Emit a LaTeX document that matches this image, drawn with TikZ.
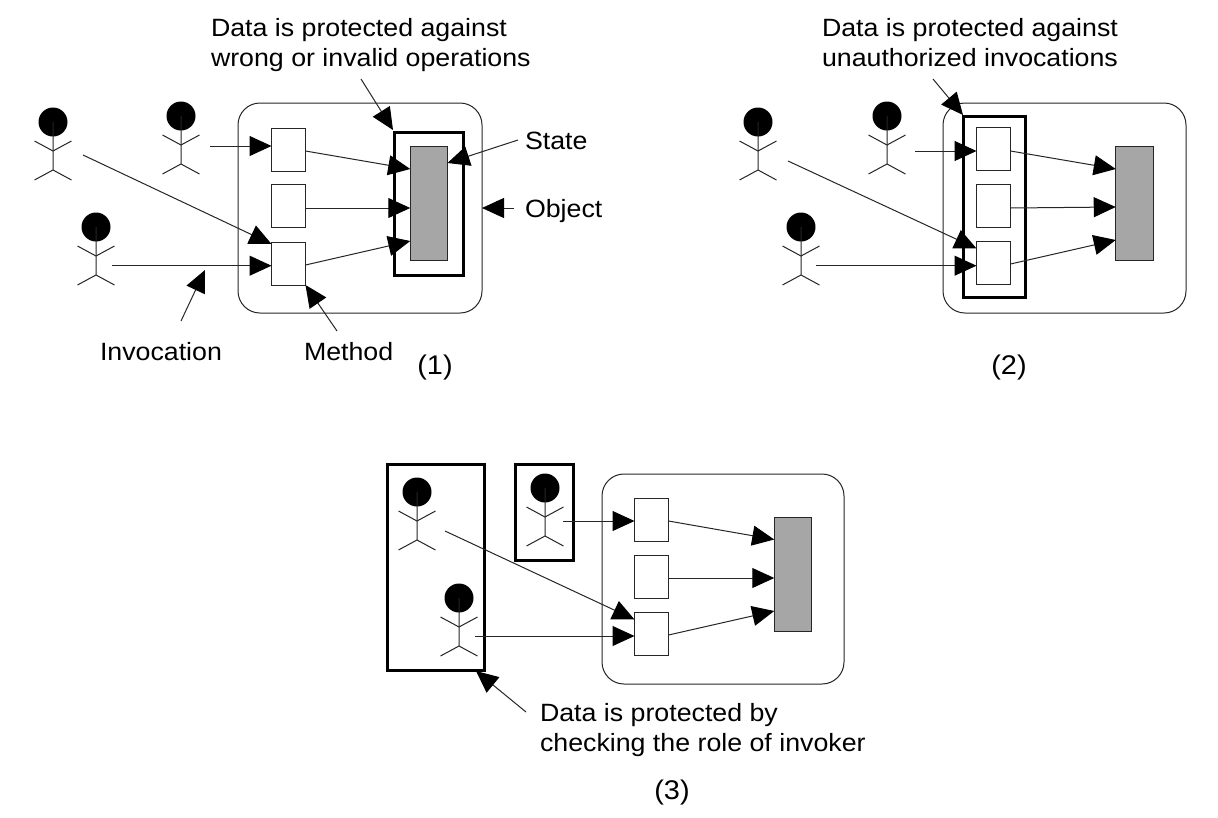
\documentclass[tikz,border=0pt]{standalone}
\usepackage{fontspec}
\setmainfont[FakeStretch=1.07]{Liberation Sans}
\usetikzlibrary{arrows.meta}
\tikzset{
  x=1pt,y=-1pt,
  ink/.style={draw=black!85,line width=1pt},
  object/.style={ink,rounded corners=22pt,inner sep=0,outer sep=0,fill=white},
  method/.style={draw=black!85,line width=1pt,fill=white,inner sep=0,outer sep=0,minimum width=34pt,minimum height=43pt},
  statebox/.style={draw=black!85,line width=1pt,fill=black!35,inner sep=0,outer sep=0,minimum width=37.5pt,minimum height=114pt},
  guard/.style={draw=black,line width=3pt},
  arrowline/.style={ink,-{Triangle[length=22pt,width=20pt,color=black]}},
  label/.style={inner sep=0,outer sep=0,anchor=base west,font=\fontsize{25}{29}\selectfont,align=left},
  tag/.style={inner sep=0,outer sep=0,anchor=base,font=\fontsize{27}{30}\selectfont},
  headdot/.style={circle,fill=black,inner sep=0,outer sep=0,minimum size=29pt},
}
\newcommand{\stick}[3]{%
  \node[headdot] (#1) at (#2,#3) {};
  \draw[ink] (#2,#3) -- ++(0,48) ++(-18.5,10) -- ++(18.5,-10) -- ++(18.5,10);
  \draw[ink] (#2-18.5,#3+19) -- (#2,#3+29) -- (#2+18.5,#3+19);
}
\begin{document}
\begin{tikzpicture}
\path[use as bounding box,fill=white] (0,0) rectangle (1218,817);

% ---------- Panel 1
\draw[object] (238,103) rectangle (482,313);
\node[method] (a1) at (288.5,149.5) {};
\node[method] (a2) at (288.5,205.5) {};
\node[method] (a3) at (288.5,263.5) {};
\node[statebox] (as) at (429,203) {};
\draw[guard] (394,132) rectangle (463,275);
\stick{ap1}{53}{122}
\stick{ap2}{181}{116}
\stick{ap3}{96}{227}
\coordinate (ap1h) at (83,155);
\coordinate (ap2h) at (210,146);
\coordinate (ap3h) at (112,265.7);
\draw[arrowline] (ap2h) -- (ap2h -| a1.west);
\draw[arrowline] (ap1h) -- ([yshift=-2pt]a3.north west);
\draw[arrowline] (ap3h) -- (ap3h -| a3.west);
\draw[arrowline] ([yshift=-1.5pt]a1.east) -- ([yshift=34pt]as.west);
\draw[arrowline] ([yshift=-2.5pt]a2.east) -- ([yshift=-5pt]as.west);
\draw[arrowline] ([yshift=-1.5pt]a3.east) -- ([yshift=-38pt]as.west);

\node[label] (at1) at (211,36) {Data is protected against};
\node[label] (at2) at (211,66) {wrong or invalid operations};
\node[label] (al1) at (525,149) {State};
\node[label] (al2) at (525,217) {Object};
\node[label] (al3) at (100,360) {Invocation};
\node[label] (al4) at (304,360) {Method};
\node[tag] (at) at (435,374) {(1)};
\coordinate (ac1) at (361,79);
\coordinate (ac2) at (393,130);
\coordinate (ac3) at (518,140);
\coordinate (ac4) at (447.5,163);
\coordinate (ac5) at (514,208);
\coordinate (ac6) at (482,208);
\coordinate (ac7) at (181,321);
\coordinate (ac8) at (205,270);
\coordinate (ac9) at (337,331);
\draw[arrowline] (ac1) -- (ac2);
\draw[arrowline] (ac3) -- (ac4);
\draw[arrowline] (ac5) -- (ac6);
\draw[arrowline] (ac7) -- (ac8);
\draw[arrowline] (ac9) -- (a3.south east);

% ---------- Panel 2
\draw[object] (943,103) rectangle (1186,313);
\node[method] (b1) at (993.5,148.5) {};
\node[method] (b2) at (993.5,205.5) {};
\node[method] (b3) at (993.5,262.5) {};
\node[statebox] (bs) at (1134.5,203) {};
\draw[guard] (963,116) rectangle (1025,297);
\stick{bp1}{758}{122}
\stick{bp2}{887}{116}
\stick{bp3}{801}{227}
\coordinate (bp1h) at (788,161);
\coordinate (bp2h) at (915,151);
\coordinate (bp3h) at (816,265.7);
\draw[arrowline] (bp2h) -- (bp2h -| b1.west);
\draw[arrowline] (bp1h) -- ([yshift=14pt]b3.west);
\draw[arrowline] (bp3h) -- (bp3h -| b3.west);
\draw[arrowline] ([yshift=-2.5pt]b1.east) -- ([yshift=34pt]bs.west);
\draw[arrowline] ([yshift=-2.5pt]b2.east) -- ([yshift=-4pt]bs.west);
\draw[arrowline] ([yshift=-1.5pt]b3.east) -- ([yshift=-37pt]bs.west);
\node[label] (bt1) at (822,36) {Data is protected against};
\node[label] (bt2) at (822,66) {unauthorized invocations};
\node[tag] (bt) at (1009,374) {(2)};
\coordinate (bc1) at (933,79);
\coordinate (bc2) at (963,115);
\draw[arrowline] (bc1) -- (bc2);

% ---------- Panel 3
\draw[object] (602,474) rectangle (844,684);
\node[method] (c1) at (651.5,519.5) {};
\node[method] (c2) at (651.5,577) {};
\node[method] (c3) at (651.5,634) {};
\node[statebox] (cs) at (793,574.5) {};
\draw[guard] (387,464) rectangle (484,670);
\draw[guard] (515,464) rectangle (573,560);
\stick{cp1}{417}{492}
\stick{cp2}{545}{488}
\stick{cp3}{459}{598}
\coordinate (cp1h) at (445,531);
\coordinate (cp2h) at (563,521);
\coordinate (cp3h) at (475,636);
\draw[arrowline] (cp2h) -- (cp2h -| c1.west);
\draw[arrowline] (cp1h) -- ([yshift=-7pt]c3.north west);
\draw[arrowline] (cp3h) -- (cp3h -| c3.west);
\draw[arrowline] ([yshift=-1.5pt]c1.east) -- ([yshift=35pt]cs.west);
\draw[arrowline] ([yshift=-1pt]c2.east) -- ([yshift=-3.5pt]cs.west);
\draw[arrowline] ([yshift=-1pt]c3.east) -- ([yshift=-36.5pt]cs.west);
\node[label] (ct1) at (540,721) {Data is protected by};
\node[label] (ct2) at (540,751) {checking the role of invoker};
\node[tag] (ct) at (672,799) {(3)};
\coordinate (cc1) at (526,712);
\coordinate (cc2) at (476,671);
\draw[arrowline] (cc1) -- (cc2);
\end{tikzpicture}
\end{document}
